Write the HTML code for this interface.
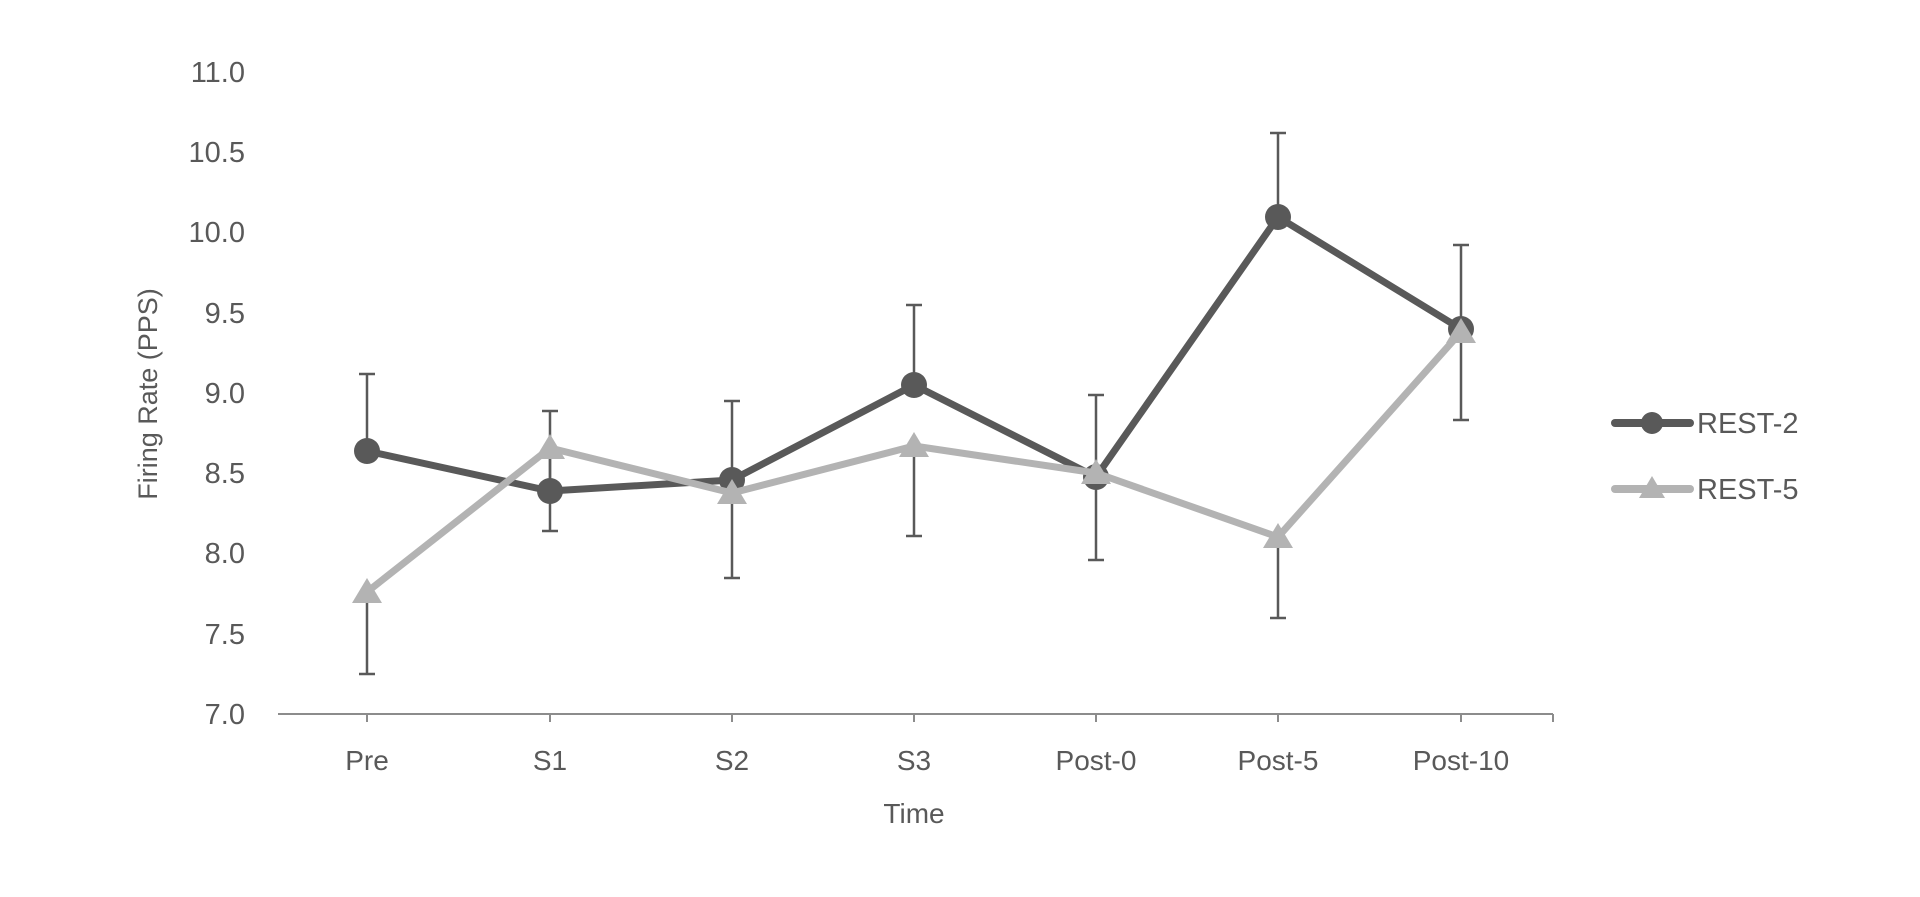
<!DOCTYPE html>
<html><head><meta charset="utf-8"><style>
html,body{margin:0;padding:0;background:#fff;}
svg{display:block;font-family:"Liberation Sans",sans-serif;}
</style></head><body>
<svg width="1920" height="897" viewBox="0 0 1920 897" xmlns="http://www.w3.org/2000/svg">
<g fill="#595959" font-size="29" text-anchor="end">
<text x="245" y="82">11.0</text>
<text x="245" y="162">10.5</text>
<text x="245" y="242">10.0</text>
<text x="245" y="323">9.5</text>
<text x="245" y="403">9.0</text>
<text x="245" y="483">8.5</text>
<text x="245" y="563">8.0</text>
<text x="245" y="644">7.5</text>
<text x="245" y="724">7.0</text>
</g>
<text transform="translate(157,394) rotate(-90)" fill="#595959" font-size="27" text-anchor="middle">Firing Rate (PPS)</text>
<line x1="278" y1="714" x2="1553" y2="714" stroke="#8c8c8c" stroke-width="2"/>
<g stroke="#8c8c8c" stroke-width="2">
<line x1="367" y1="714" x2="367" y2="722"/><line x1="550" y1="714" x2="550" y2="722"/>
<line x1="732" y1="714" x2="732" y2="722"/><line x1="914" y1="714" x2="914" y2="722"/>
<line x1="1096" y1="714" x2="1096" y2="722"/><line x1="1278" y1="714" x2="1278" y2="722"/>
<line x1="1461" y1="714" x2="1461" y2="722"/><line x1="1553" y1="714" x2="1553" y2="722"/>
</g>
<g fill="#595959" font-size="28" text-anchor="middle">
<text x="367" y="770">Pre</text><text x="550" y="770">S1</text><text x="732" y="770">S2</text>
<text x="914" y="770">S3</text><text x="1096" y="770">Post-0</text><text x="1278" y="770">Post-5</text>
<text x="1461" y="770">Post-10</text>
<text x="914" y="823">Time</text>
</g>
<g stroke="#595959" stroke-width="2.5" fill="none">
<path d="M367 374V451M359 374H375"/>
<path d="M550 411V491M542 411H558"/>
<path d="M732 401V480M724 401H740"/>
<path d="M914 305V385M906 305H922"/>
<path d="M1096 395V477M1088 395H1104"/>
<path d="M1278 133V217M1270 133H1286"/>
<path d="M1461 245V329M1453 245H1469"/>
<path d="M367 592V674M359 674H375"/>
<path d="M550 448V531M542 531H558"/>
<path d="M732 493V578M724 578H740"/>
<path d="M914 446V536M906 536H922"/>
<path d="M1096 473V560M1088 560H1104"/>
<path d="M1278 537V618M1270 618H1286"/>
<path d="M1461 332V420M1453 420H1469"/>
</g>
<polyline points="367,451 550,491 732,480 914,385 1096,477 1278,217 1461,329" fill="none" stroke="#595959" stroke-width="7" stroke-linejoin="round"/>
<g fill="#595959">
<circle cx="367" cy="451" r="13"/><circle cx="550" cy="491" r="13"/><circle cx="732" cy="480" r="13"/>
<circle cx="914" cy="385" r="13"/><circle cx="1096" cy="477" r="13"/><circle cx="1278" cy="217" r="13"/>
<circle cx="1461" cy="329" r="13"/>
</g>
<polyline points="367,592 550,448 732,493 914,446 1096,473 1278,537 1461,332" fill="none" stroke="#b3b3b3" stroke-width="7" stroke-linejoin="round"/>
<g fill="#b3b3b3">
<path d="M367 578l15 25h-30z"/><path d="M550 434l15 25h-30z"/><path d="M732 479l15 25h-30z"/>
<path d="M914 432l15 25h-30z"/><path d="M1096 459l15 25h-30z"/><path d="M1278 523l15 25h-30z"/>
<path d="M1461 318l15 25h-30z"/>
</g>
<line x1="1615" y1="423" x2="1690" y2="423" stroke="#595959" stroke-width="8" stroke-linecap="round"/>
<circle cx="1652" cy="423" r="11" fill="#595959"/>
<line x1="1615" y1="489" x2="1690" y2="489" stroke="#b3b3b3" stroke-width="8" stroke-linecap="round"/>
<path d="M1652 476l13 22h-26z" fill="#b3b3b3"/>
<g fill="#595959" font-size="29">
<text x="1697" y="433">REST-2</text>
<text x="1697" y="499">REST-5</text>
</g>
</svg>
</body></html>
